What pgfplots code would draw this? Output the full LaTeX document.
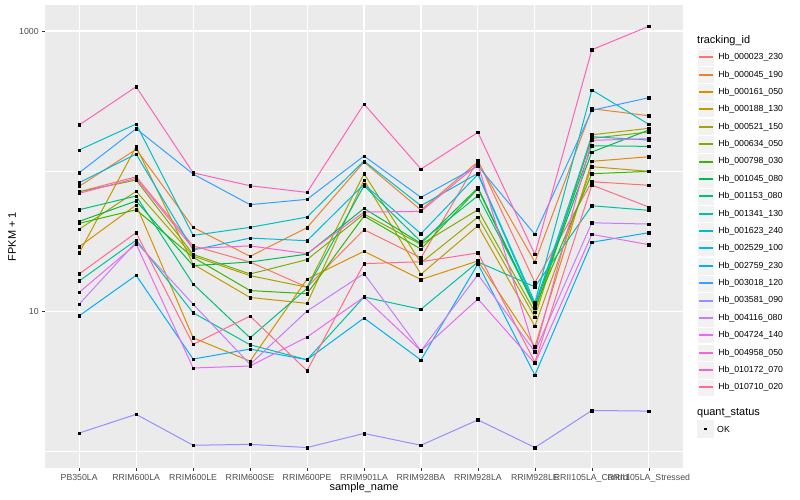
\documentclass[border=0pt]{standalone}
\usepackage{fontspec}
\setmainfont{Liberation Sans}
\usepackage{pgfplots}
\usepackage{pgfplotstable}
\pgfplotsset{compat=1.18}
\definecolor{c1}{HTML}{F8766D}
\definecolor{c2}{HTML}{EA8331}
\definecolor{c3}{HTML}{D89000}
\definecolor{c4}{HTML}{C09B00}
\definecolor{c5}{HTML}{A3A500}
\definecolor{c6}{HTML}{7CAE00}
\definecolor{c7}{HTML}{39B600}
\definecolor{c8}{HTML}{00BB4E}
\definecolor{c9}{HTML}{00BF7D}
\definecolor{c10}{HTML}{00C1A3}
\definecolor{c11}{HTML}{00BFC4}
\definecolor{c12}{HTML}{00BAE0}
\definecolor{c13}{HTML}{00B0F6}
\definecolor{c14}{HTML}{35A2FF}
\definecolor{c15}{HTML}{9590FF}
\definecolor{c16}{HTML}{C77CFF}
\definecolor{c17}{HTML}{E76BF3}
\definecolor{c18}{HTML}{FA62DB}
\definecolor{c19}{HTML}{FF62BC}
\definecolor{c20}{HTML}{FF6C91}
\definecolor{panelgrey}{HTML}{EBEBEB}
\definecolor{keygrey}{HTML}{F2F2F2}
\definecolor{grey20}{HTML}{333333}
\definecolor{grey30}{HTML}{4D4D4D}

\pgfplotstableread{
x s1 s2 s3 s4 s5 s6 s7 s8 s9 s10 s11 s12 s13 s14 s15 s16 s17 s18 s19 s20
0 71.1 77.8 28.8 26.0 38.4 71.1 42.3 43.7 52.9 16.4 141.3 82.5 9.25 97.2 1.345 11.2 13.6 69.3 213.2 18.4
1 91.0 142.9 57.2 149.2 71.6 86.2 52.9 61.1 66.3 32.1 216.6 132.3 18.0 200.5 1.83 31.1 30.1 88.7 400 36.3
2 29.2 39.6 6.44 21.6 24.7 25.4 24.2 21.1 15.6 9.72 34.7 27.3 4.54 95.2 1.10 11.2 3.92 28.0 97.2 5.78
3 22.4 24.6 4.39 12.5 17.9 18.4 14.0 22.4 6.44 5.74 39.6 33.2 5.35 57.5 1.117 4.16 4.05 29.2 78.5 9.21
4 14.8 39.4 16.9 11.35 14.8 23.3 13.3 25.5 14.5 4.49 46.9 31.8 4.49 62.8 1.06 10.0 6.52 25.7 70.4 3.75
5 38.1 115.9 26.7 86.2 95.7 49.3 47.7 54.1 78.5 12.6 117.9 80.3 8.91 128.0 1.336 18.5 12.6 50.9 301 21.8
6 24.0 52.6 16.8 18.3 22.1 29.9 27.7 30.4 31.3 10.3 56.5 35.7 4.47 64.9 1.10 5.20 5.20 51.5 103.3 22.5
7 119.2 116.5 22.8 40.7 46.9 52.9 74.7 76.0 66.6 22.4 96.3 94.7 21.7 108.6 1.67 18.2 12.2 111.6 188.9 26.0
8 16.0 22.4 5.56 7.81 9.06 9.84 10.6 10.9 11.2 14.9 11.5 11.0 3.49 35.3 1.06 5.12 4.23 5.12 25.4 4.32
9 83.9 278.6 117.3 107.4 181.6 171.3 95.7 136.7 151.6 56.5 379 175.8 31.0 271.4 1.95 42.7 35.3 165.6 735 79.4
10 79.1 248.3 126.5 99.5 201.8 190.0 99.5 196.3 150.0 52.4 215.6 166.5 36.3 334 1.93 41.8 29.8 170.2 1081 55.3
}\data

\begin{document}
\begin{tikzpicture}
\useasboundingbox (0,0) rectangle (800bp,500bp);
\begin{axis}[
  at={(45bp,32bp)}, anchor=south west,
  scale only axis, width=638bp, height=463bp,
  ymode=log, ymin=0.757, ymax=1534,
  xmin=-0.6, xmax=10.6,
  xtick={0,...,10},
  xticklabels={PB350LA,RRIM600LA,RRIM600LE,RRIM600SE,RRIM600PE,RRIM901LA,RRIM928BA,RRIM928LA,RRIM928LE,RRII105LA\_Control,RRII105LA\_Stressed},
  ytick={10,1000}, yticklabels={10,1000},
  minor ytick={1,100},
  grid=both,
  major grid style={white, line width=1.07bp},
  minor grid style={white, line width=0.53bp},
  axis background/.style={fill=panelgrey},
  axis line style={draw=none},
  tick align=outside, tick pos=left,
  major tick length=2.75bp, minor tick length=0pt,
  tick style={grey20, line width=0.53bp},
  ticklabel style={font=\fontsize{8.8}{10}\selectfont, text=grey30},
  legend style={at={(axis description cs:1.0219,0.907)}, anchor=north west,
    draw=none, fill=none, inner sep=0pt, outer sep=0pt, row sep=-0.94bp,
    font=\fontsize{8.8}{10}\selectfont, cells={anchor=west}, nodes={inner sep=0pt}},
  legend image code/.code={
    \fill[keygrey] (0bp,-8.66bp) rectangle (17.32bp,8.66bp);
    \draw[white, line width=0.6bp] (0.3bp,-8.36bp) rectangle (17.02bp,8.36bp);
    \draw[#1,mark=none,line width=2bp] (1.6bp,0bp) -- (15.7bp,0bp);
    \path (20.3bp,0bp);
  },
]
\pgfplotsinvokeforeach{1,...,20}{
  \addplot[c#1, line width=1bp, mark=none] table[x=x, y=s#1] {\data};
}
\legend{Hb\_000023\_230,Hb\_000045\_190,Hb\_000161\_050,Hb\_000188\_130,Hb\_000521\_150,Hb\_000634\_050,Hb\_000798\_030,Hb\_001045\_080,Hb\_001153\_080,Hb\_001341\_130,Hb\_001623\_240,Hb\_002529\_100,Hb\_002759\_230,Hb\_003018\_120,Hb\_003581\_090,Hb\_004116\_080,Hb\_004724\_140,Hb\_004958\_050,Hb\_010172\_070,Hb\_010710\_020}
\pgfplotsinvokeforeach{1,...,20}{
  \addplot[only marks, mark=square*, mark size=1.3bp, black, forget plot] table[x=x, y=s#1] {\data};
}
\end{axis}
\node[rotate=90, font=\fontsize{11}{13}\selectfont] at (12bp,263.5bp) {FPKM + 1};
\node[font=\fontsize{11}{13}\selectfont] at (364bp,12bp) {sample\_name};
\node[anchor=west, inner sep=0pt, font=\fontsize{11}{13}\selectfont] at (697bp,459.3bp) {tracking\_id};
\node[anchor=west, inner sep=0pt, font=\fontsize{11}{13}\selectfont] at (697bp,87.3bp) {quant\_status};
\fill[keygrey] (697bp,62.34bp) rectangle (714.32bp,79.66bp);
\fill[black] (704.4bp,69.7bp) rectangle (707bp,72.3bp);
\node[anchor=west, inner sep=0pt, font=\fontsize{8.8}{10}\selectfont] at (717bp,71bp) {OK};
\end{tikzpicture}
\end{document}
